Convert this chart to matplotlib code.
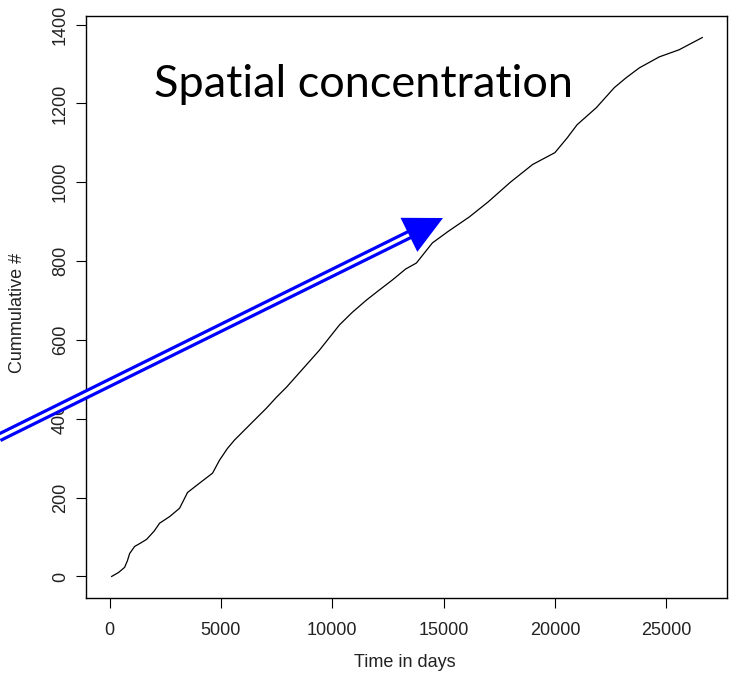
import matplotlib
matplotlib.use("Agg")
import matplotlib.pyplot as plt
from matplotlib.lines import Line2D
from matplotlib.patches import Polygon
import numpy as np

# cumulative count
days = [90, 400, 673, 800, 898, 1122, 1400, 1660, 2000, 2244, 2700, 3142,
        3500, 4000, 4623, 4937, 5296, 5610, 6300, 7046, 7500, 7944, 8700,
        9425, 10323, 10900, 11535, 12100, 12700, 13300, 13779, 14497, 15200,
        16158, 17000, 18000, 19000, 20000, 20560, 21000, 21860, 22670, 23200,
        23790, 24690, 25580, 26620]
cumulative = [0, 10, 23, 40, 58, 76, 85, 94, 115, 135, 152, 173,
              213, 235, 262, 295, 325, 346, 385, 427, 455, 480, 528,
              574, 638, 670, 701, 726, 752, 780, 795, 846, 875,
              912, 950, 1000, 1045, 1075, 1113, 1146, 1189, 1240, 1265,
              1290, 1318, 1336, 1367]

xticks = [0, 5000, 10000, 15000, 20000, 25000]
yticks = [0, 200, 400, 600, 800, 1000, 1200, 1400]

W, H = 731, 678
fig = plt.figure(figsize=(W / 100, H / 100), dpi=100)
ax = fig.add_axes([86 / W, 1 - 598 / H, (727 - 86) / W, (598 - 16) / H])

ax.plot(days, cumulative, color="black", lw=0.9)

# R style limits (4% padding)
xr = max(days) - min(days)
yr = max(cumulative) - min(cumulative)
ax.set_xlim(min(days) - 0.04 * xr - 90, max(days) + 0.04 * xr + 50)
ax.set_ylim(min(cumulative) - 0.04 * yr, max(cumulative) + 0.04 * yr)

font = "Liberation Sans"
tc = "#222222"
ax.set_xticks(xticks)
ax.set_yticks(yticks)
ax.set_xticklabels([str(t) for t in xticks], fontfamily=font, fontsize=13, color=tc)
ax.set_yticklabels([str(t) for t in yticks], fontfamily=font, fontsize=13, color=tc,
                   rotation=90, va="center")
ax.tick_params(axis="x", direction="out", length=7.2, width=0.8, pad=10)
ax.tick_params(axis="y", direction="out", length=7.2, width=0.8, pad=5)
for s in ax.spines.values():
    s.set_linewidth(1.0)

ax.set_xlabel("Time in days", fontfamily=font, fontsize=13, color=tc)
ax.set_ylabel("Cummulative #", fontfamily=font, fontsize=13, color=tc)
ax.xaxis.set_label_coords(0.497, -0.097)
ax.yaxis.set_label_coords(-0.093, 0.49)

# title text inside the plot
fig.text(154 / W, 1 - 97 / H, "Spatial concentration", fontfamily="Lato",
         fontsize=32.5, color="black", va="baseline", ha="left")


# overlay arrow, in reference pixel coordinates
def px(x, y):
    return x / W, 1 - y / H


tip = np.array([443.0, 218.0])
tail = np.array([-10.0, 442.0])
u = (tip - tail) / np.linalg.norm(tip - tail)
n = np.array([-u[1], u[0]])
head_len, head_half = 38.0, 19.0
base = tip - head_len * u
shaft_end = base + 14 * u

sx, sy = zip(px(*tail), px(*shaft_end))
fig.add_artist(Line2D(sx, sy, transform=fig.transFigure, color="#0000ff",
                      lw=7.0, solid_capstyle="butt", zorder=10))
fig.add_artist(Line2D(sx, sy, transform=fig.transFigure, color="white",
                      lw=2.4, solid_capstyle="butt", zorder=11))
head = [px(*tip), px(*(base + head_half * n)), px(*(base - head_half * n))]
fig.add_artist(Polygon(head, closed=True, transform=fig.transFigure,
                       facecolor="#0000ff", edgecolor="none", zorder=12))

fig.savefig("out.png", dpi=100)
